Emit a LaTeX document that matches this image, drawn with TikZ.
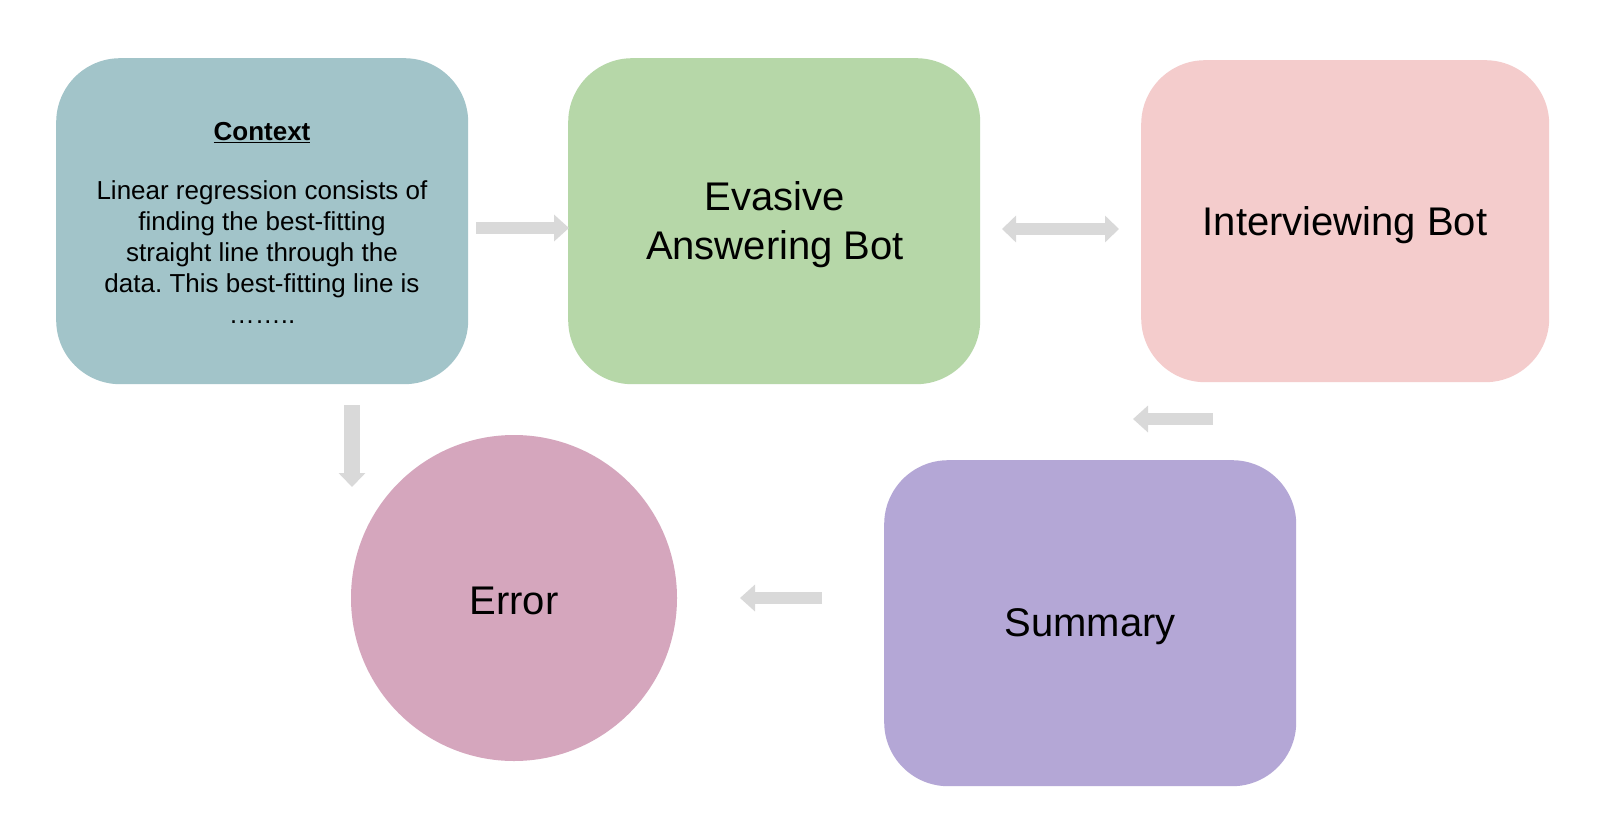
\documentclass[tikz,border=0pt]{standalone}
\usepackage{fontspec}
\setmainfont{Liberation Sans}
\usetikzlibrary{arrows.meta}
\frenchspacing
\definecolor{ctxcol}{HTML}{A2C4C9}
\definecolor{evacol}{HTML}{B6D7A8}
\definecolor{intcol}{HTML}{F4CCCC}
\definecolor{sumcol}{HTML}{B4A7D6}
\definecolor{errcol}{HTML}{D5A6BD}
\definecolor{arrcol}{HTML}{D9D9D9}
\tikzset{
  box/.style={rounded corners=64pt, inner sep=0pt, anchor=north west},
  bigtext/.style={font=\fontsize{40}{49}\selectfont, align=center, text=black},
  smalltext/.style={font=\fontsize{26}{31}\selectfont, align=center, text=black},
  blockarrow/.style={draw=arrcol, line width=12.5pt, -{Triangle[length=15pt,width=26pt]}, arrcol},
  blockdouble/.style={draw=arrcol, line width=12.5pt, {Triangle[length=14pt,width=26pt]}-{Triangle[length=14pt,width=26pt]}, arrcol},
}
\begin{document}
\begin{tikzpicture}[x=1pt,y=-1pt]
\useasboundingbox (0,0) rectangle (1600,814);
\fill[white] (0,0) rectangle (1600,814);
% boxes
\node[box, fill=ctxcol, minimum width=412pt, minimum height=326pt] (ctx) at (56,58) {};
\node[box, fill=evacol, minimum width=412pt, minimum height=326pt] (eva) at (568,58) {};
\node[box, fill=intcol, minimum width=408pt, minimum height=322pt] (int) at (1141,60) {};
\node[box, fill=sumcol, minimum width=412pt, minimum height=326pt] (sum) at (884,460) {};
\node[circle, fill=errcol, minimum size=326pt, inner sep=0pt] (err) at (514,598) {};
% texts
\node[smalltext, font=\fontsize{26}{31}\selectfont\bfseries] (ctxtitle) at (262,133) {\underline{Context}};
\node[smalltext, anchor=north] (ctxbody) at (262,177) {Linear regression consists of\\finding the best-fitting\\straight line through the\\data. This best-fitting line is\\\dots\dots..};
\node[bigtext] (evatext) at (775,225) {Evasive\\Answering Bot};
\node[bigtext] (inttext) at (1345,225) {Interviewing Bot};
\node[bigtext] (sumtext) at (1090,627) {Summary};
\node[bigtext] (errtext) at (514,601) {Error};
% arrows
\coordinate (a1s) at (476,228);
\coordinate (a1e) at (569,228);
\draw[blockarrow] (a1s) -- (a1e);
\coordinate (a2s) at (1002,229);
\coordinate (a2e) at (1119,229);
\draw[blockdouble] (a2s) -- (a2e);
\coordinate (a3s) at (1213,419);
\coordinate (a3e) at (1133,419);
\draw[blockarrow] (a3s) -- (a3e);
\coordinate (a4s) at (352,405);
\coordinate (a4e) at (352,487);
\draw[blockarrow, line width=16pt, -{Triangle[length=14pt,width=26pt]}] (a4s) -- (a4e);
\coordinate (a5s) at (822,598);
\coordinate (a5e) at (740,598);
\draw[blockarrow] (a5s) -- (a5e);
\end{tikzpicture}
\end{document}
